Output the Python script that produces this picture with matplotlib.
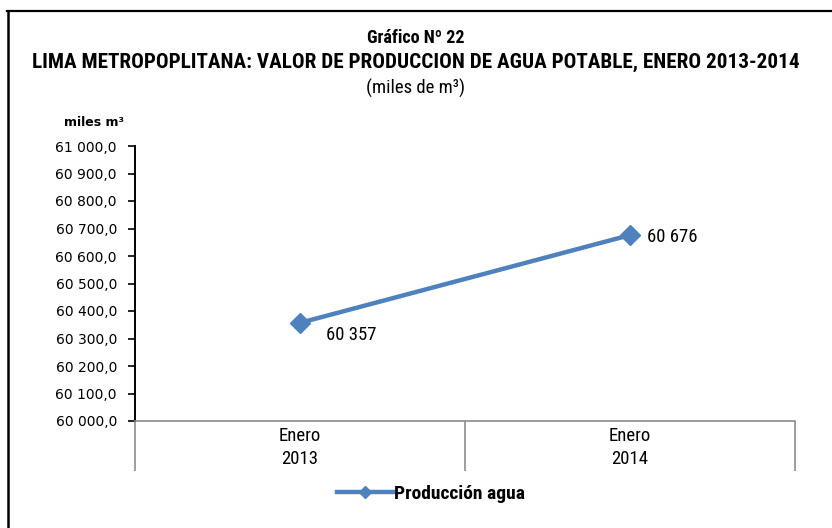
import matplotlib
matplotlib.use("Agg")
import matplotlib.pyplot as plt
from matplotlib.lines import Line2D

# datos
categorias = ["Enero\n2013", "Enero\n2014"]
produccion = [60357, 60676]
etiquetas = ["60 357", "60 676"]
yticks = [60000 + 100 * i for i in range(11)]

NARROW = ["Roboto Condensed", "DejaVu Sans"]
VERD = ["DejaVu Sans"]
AZUL = "#4F81BD"


def fmt(v):
    return f"{v:,.1f}".replace(",", " ").replace(".", ",")


fig = plt.figure(figsize=(8.32, 5.28), dpi=100)
ax = fig.add_axes([135 / 832, 1 - 421 / 528, 660 / 832, 275 / 528])

x = list(range(len(categorias)))
ax.plot(x, produccion, color=AZUL, lw=3.2, marker="D", ms=10,
        label="Producción agua")

ax.set_xlim(-0.5, 1.5)
ax.set_ylim(60000, 61000)
ax.set_yticks(yticks)
ax.set_yticklabels([fmt(v) for v in yticks], family=VERD, fontsize=10)
ax.set_xticks(x)
ax.set_xticklabels(categorias, family=NARROW, fontsize=13.5, linespacing=1.4)
ax.set_xticks([-0.5, 0.5, 1.5], minor=True)
ax.tick_params(axis="x", which="major", length=0, pad=4)
ax.tick_params(axis="x", which="minor", length=36, color="#8c8c8c", width=1.2)
ax.tick_params(axis="y", length=5, width=1.2, color="black", pad=8)

for s in ["top", "right"]:
    ax.spines[s].set_visible(False)
ax.spines["left"].set_linewidth(1.4)
ax.spines["bottom"].set_color("#8c8c8c")
ax.spines["bottom"].set_linewidth(1.2)

# etiquetas de datos
ax.annotate(etiquetas[0], (x[0], produccion[0]), xytext=(18.5, -8.5),
            textcoords="offset points", family=NARROW, fontsize=13.5,
            va="center", ha="left")
ax.annotate(etiquetas[1], (x[1], produccion[1]), xytext=(12, -1.5),
            textcoords="offset points", family=NARROW, fontsize=13.5,
            va="center", ha="left")

# títulos
fig.text(0.5, 1 - 38 / 528, "Gráfico Nº 22", ha="center", va="center",
         family=NARROW, fontsize=13, weight="bold")
fig.text(0.5, 1 - 62 / 528,
         "LIMA METROPOPLITANA: VALOR DE PRODUCCION DE AGUA POTABLE, ENERO 2013-2014",
         ha="center", va="center", family=NARROW, fontsize=15.2, weight="bold")
fig.text(0.5, 1 - 88 / 528, "(miles de m³)", ha="center", va="center",
         family=NARROW, fontsize=13.5)
fig.text(94 / 832, 1 - 123 / 528, "miles m³", ha="center", va="center",
         family=VERD, fontsize=9, weight="bold")

leg = fig.legend(loc="center", bbox_to_anchor=(431 / 832, 1 - 494 / 528),
                 frameon=False, handlelength=2.9, handletextpad=0.05,
                 prop={"family": NARROW, "size": 14, "weight": "bold"})
for h in leg.legend_handles:
    h.set_markersize(6)

# marco
fig.add_artist(Line2D([7 / 832, 1], [1 - 11 / 528] * 2, color="black", lw=1.6))
fig.add_artist(Line2D([8 / 832] * 2, [1 - 11 / 528, 0], color="black", lw=1.8))

fig.savefig("out.png", dpi=100)
